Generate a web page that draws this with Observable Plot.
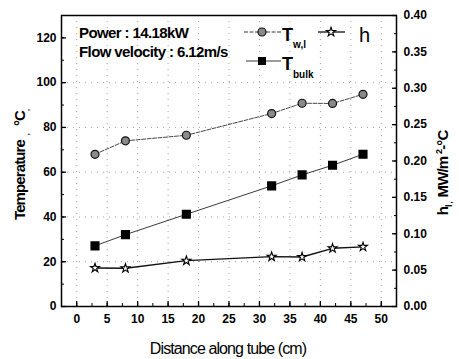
<!DOCTYPE html>
<html><head><meta charset="utf-8">
<script src="https://cdn.jsdelivr.net/npm/d3@7"></script>
<script src="https://cdn.jsdelivr.net/npm/@observablehq/plot@0.6"></script>
<style>
body{margin:0;background:#fff;}
#chart{position:relative;width:459px;height:359px;}
</style></head>
<body><div id="chart"></div>
<script>
const distance = [3, 8, 18, 32, 37, 42, 47];
const tWall = [68, 74, 76.5, 86.2, 90.8, 90.7, 94.8];
const tBulk = [27.1, 32.1, 41.2, 53.9, 58.8, 63.1, 68];
const hCoef = [0.053, 0.0525, 0.063, 0.0685, 0.068, 0.080, 0.082];
const xTicks = [0,5,10,15,20,25,30,35,40,45,50];
const yTicks = [0,20,40,60,80,100,120];
const hTicks = [0,0.05,0.10,0.15,0.20,0.25,0.30,0.35,0.40];

const yMax = 130, hMax = 0.4, k = yMax / hMax;
const wall = distance.map((d,i)=>({x:d, y:tWall[i]}));
const bulk = distance.map((d,i)=>({x:d, y:tBulk[i]}));
const hdat = distance.map((d,i)=>({x:d, y:hCoef[i]*k}));

const font = "'Liberation Sans', Arial, sans-serif";
const xMinor = d3.range(-2.5, 52.6, 2.5);
const yMinor = d3.range(0, 131, 10);
const hMinor = d3.range(0, 0.401, 0.025).map(v=>v*k);
const none = () => "";

const plot = Plot.plot({
  width: 459, height: 359,
  marginLeft: 61, marginRight: 63, marginTop: 15, marginBottom: 53,
  style: {fontFamily: font, fontSize: "12px", fontWeight: "bold", color: "#000", background: "#fff"},
  x: {domain: [-2.5, 52.5]},
  y: {domain: [0, yMax]},
  marks: [
    Plot.gridX(xTicks, {stroke: "#666", strokeOpacity: 0.6, strokeDasharray: "1,5"}),
    Plot.gridY([20,40,60,80,100], {stroke: "#666", strokeOpacity: 0.6, strokeDasharray: "1,5"}),
    Plot.frame({stroke: "#000", strokeWidth: 1.5}),
    // x axis
    Plot.axisX({ticks: xTicks, tickSize: -5, tickFormat: none, label: null, strokeWidth: 1.3}),
    Plot.axisX({ticks: xMinor, tickSize: -3, tickFormat: none, label: null}),
    Plot.axisX({ticks: xTicks, tickSize: 0, tickPadding: 8, label: null}),
    // left y axis
    Plot.axisY({ticks: yTicks, tickSize: -5, tickFormat: none, label: null, strokeWidth: 1.3}),
    Plot.axisY({ticks: yMinor, tickSize: -3, tickFormat: none, label: null}),
    Plot.axisY({ticks: yTicks, tickSize: 0, tickPadding: 5, label: null}),
    // right y axis (h)
    Plot.axisY({anchor: "right", ticks: hTicks.map(v=>v*k), tickSize: -5, tickFormat: none, label: null, strokeWidth: 1.3}),
    Plot.axisY({anchor: "right", ticks: hMinor, tickSize: -3, tickFormat: none, label: null}),
    Plot.axisY({anchor: "right", ticks: hTicks.map(v=>v*k), tickSize: 0, tickPadding: 7, label: null,
      tickFormat: d => (d/k).toFixed(2)}),
    // data
    Plot.line(wall, {x: "x", y: "y", stroke: "#333", strokeWidth: 0.9, strokeDasharray: "4,1.5"}),
    Plot.dot(wall, {x: "x", y: "y", r: 4, fill: "#8a8a8a", stroke: "#111", strokeWidth: 1.2}),
    Plot.line(bulk, {x: "x", y: "y", stroke: "#222", strokeWidth: 0.9}),
    Plot.dot(bulk, {x: "x", y: "y", symbol: "square", r: 4.3, fill: "#000", stroke: "#000"}),
    Plot.line(hdat, {x: "x", y: "y", stroke: "#111", strokeWidth: 1.4}),
    Plot.dot(hdat, {x: "x", y: "y", symbol: "star", r: 2.8, fill: "#fff", stroke: "#000", strokeWidth: 1.1})
  ]
});
document.getElementById("chart").appendChild(plot);

const svg = d3.select(plot);
const g = svg.append("g").attr("font-family", font).attr("fill", "#000").attr("text-anchor", "start");
// annotation text
g.append("text").attr("x", 79).attr("y", 38).attr("font-size", 15).attr("font-weight", "bold")
  .attr("letter-spacing", "-0.6").text("Power : 14.18kW");
g.append("text").attr("x", 79).attr("y", 57).attr("font-size", 15).attr("font-weight", "bold")
  .attr("letter-spacing", "-0.6").text("Flow velocity : 6.12m/s");

// legend
function legendLine(x1, x2, y, dash, w){
  g.append("line").attr("x1", x1).attr("x2", x2).attr("y1", y).attr("y2", y)
    .attr("stroke", "#222").attr("stroke-width", w).attr("stroke-dasharray", dash);
}
legendLine(244, 281, 32, "4,1.5", 0.9);
g.append("circle").attr("cx", 262).attr("cy", 32).attr("r", 4).attr("fill", "#8a8a8a").attr("stroke", "#111").attr("stroke-width", 1.2);
g.append("text").attr("x", 282).attr("y", 41).attr("font-size", 18).attr("font-weight", "bold").text("T");
g.append("text").attr("x", 293).attr("y", 48).attr("font-size", 10).attr("font-weight", "bold").text("w,l");

legendLine(318, 345, 32, null, 1.4);
g.append("path").attr("d", d3.symbol(d3.symbolStar, 26)()).attr("transform", "translate(331,32)")
  .attr("fill", "#fff").attr("stroke", "#000").attr("stroke-width", 1.1);
g.append("text").attr("x", 359).attr("y", 42).attr("font-size", 20).attr("font-weight", "normal").text("h");

legendLine(246, 281, 61, null, 0.9);
g.append("rect").attr("x", 258).attr("y", 57).attr("width", 8).attr("height", 8).attr("fill", "#000");
g.append("text").attr("x", 282).attr("y", 70).attr("font-size", 18).attr("font-weight", "bold").text("T");
g.append("text").attr("x", 293).attr("y", 78).attr("font-size", 10).attr("font-weight", "bold").text("bulk");

// axis titles
g.append("text").attr("x", 228).attr("y", 354).attr("text-anchor", "middle").attr("font-size", 16)
  .attr("font-weight", "normal").attr("letter-spacing", "-0.9").text("Distance along tube (cm)");
const yl = g.append("text").attr("transform", "translate(25,165) rotate(-90)").attr("text-anchor", "middle")
  .attr("font-size", 15).attr("font-weight", "bold").attr("letter-spacing", "-0.9");
yl.append("tspan").text("Temperature");
yl.append("tspan").attr("font-size", 7).attr("dx", 5).attr("dy", 4).text(",");
yl.append("tspan").attr("dx", 8).attr("dy", -4).text("°C");
yl.append("tspan").attr("font-size", 7).attr("dy", 4).text(",");
const hl = g.append("text").attr("transform", "translate(448,173) rotate(-90)").attr("text-anchor", "middle")
  .attr("font-size", 15).attr("font-weight", "bold").attr("letter-spacing", "-0.9");
hl.append("tspan").text("h");
hl.append("tspan").attr("font-size", 9).attr("dy", 4).text("l");
hl.append("tspan").attr("font-size", 7).attr("dx", 2).text(",");
hl.append("tspan").attr("dx", 5).attr("dy", -4).text("MW/m");
hl.append("tspan").attr("font-size", 9).attr("dx", 3).attr("dy", -6).text("2");
hl.append("tspan").attr("dy", 6).text("-°C");
</script></body></html>
